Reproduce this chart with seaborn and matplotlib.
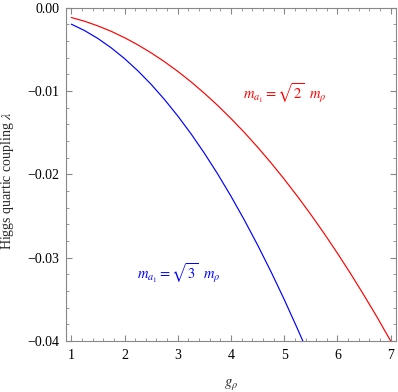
import numpy as np
import pandas as pd
import matplotlib
matplotlib.use("Agg")
import matplotlib.pyplot as plt
from matplotlib.ticker import MultipleLocator, FuncFormatter
import seaborn as sns

# values
g_red = [1.0, 1.25, 1.5, 1.75, 2.0, 2.25, 2.5, 2.75, 3.0, 3.25, 3.5, 3.75, 4.0,
         4.25, 4.5, 4.75, 5.0, 5.25, 5.5, 5.75, 6.0, 6.25, 6.5, 6.75, 7.0]
lam_red = [-0.00120, -0.00165, -0.00221, -0.00286, -0.00362, -0.00448, -0.00544,
           -0.00650, -0.00766, -0.00892, -0.01029, -0.01175, -0.01332, -0.01498,
           -0.01675, -0.01862, -0.02059, -0.02266, -0.02483, -0.02710, -0.02948,
           -0.03195, -0.03453, -0.03720, -0.04000]

g_blue = [1.0, 1.25, 1.5, 1.75, 2.0, 2.25, 2.5, 2.75, 3.0, 3.25, 3.5, 3.75, 4.0,
          4.25, 4.5, 4.75, 5.0, 5.25, 5.35]
lam_blue = [-0.00200, -0.00277, -0.00372, -0.00484, -0.00613, -0.00759, -0.00922,
            -0.01103, -0.01301, -0.01516, -0.01748, -0.01997, -0.02264, -0.02548,
            -0.02849, -0.03167, -0.03502, -0.03855, -0.04000]

red_label = r"$m_{a_1} = \sqrt{2}\ \ m_\rho$"
blue_label = r"$m_{a_1} = \sqrt{3}\ \ m_\rho$"

df_red = pd.DataFrame({"g": g_red, "lam": lam_red})
df_blue = pd.DataFrame({"g": g_blue, "lam": lam_blue})

sns.set_style("ticks")
plt.rcParams["font.family"] = ["Liberation Serif", "DejaVu Serif"]
plt.rcParams["mathtext.fontset"] = "stix"

fig = plt.figure(figsize=(3.98, 3.92), dpi=100)
ax = fig.add_axes([66 / 398, 1 - 341 / 392, 330 / 398, 333.5 / 392])

sns.lineplot(data=df_red, x="g", y="lam", color=(1, 0, 0), linewidth=0.85, ax=ax)
sns.lineplot(data=df_blue, x="g", y="lam", color=(0, 0, 1), linewidth=0.85, ax=ax)

ax.set_xlim(0.9, 7.1)
ax.set_ylim(-0.04, 0.0)

ax.xaxis.set_major_locator(MultipleLocator(1))
ax.xaxis.set_minor_locator(MultipleLocator(0.2))
ax.yaxis.set_major_locator(MultipleLocator(0.01))
ax.yaxis.set_minor_locator(MultipleLocator(0.002))
ax.yaxis.set_major_formatter(FuncFormatter(lambda v, p: f"{v:.2f}".replace("-", "\u2212")))

ax.tick_params(which="both", direction="in", top=True, right=True,
               color="#888888", labelsize=10, labelcolor="black")
ax.tick_params(which="major", length=4.5, width=0.8)
ax.tick_params(axis="x", which="major", pad=5.5)
ax.tick_params(axis="y", which="major", pad=5)
ax.tick_params(which="minor", length=2.5, width=0.6)
for s in ax.spines.values():
    s.set_color("#888888")
    s.set_linewidth(0.8)

ax.set_xlabel(r"$g_\rho$", fontsize=10.5)
ax.xaxis.set_label_coords(0.5, -0.108)
ax.xaxis.label.set_va("top")
ax.set_ylabel(r"Higgs quartic coupling $\lambda$", fontsize=10)
ax.yaxis.set_label_coords(-0.151, 0.48)

ax.text(4.23, -0.0103, red_label, color=(1, 0, 0), fontsize=10.5, va="center")
ax.text(2.24, -0.0319, blue_label, color=(0, 0, 1), fontsize=10.5, va="center")

fig.savefig("out.png", dpi=100)
